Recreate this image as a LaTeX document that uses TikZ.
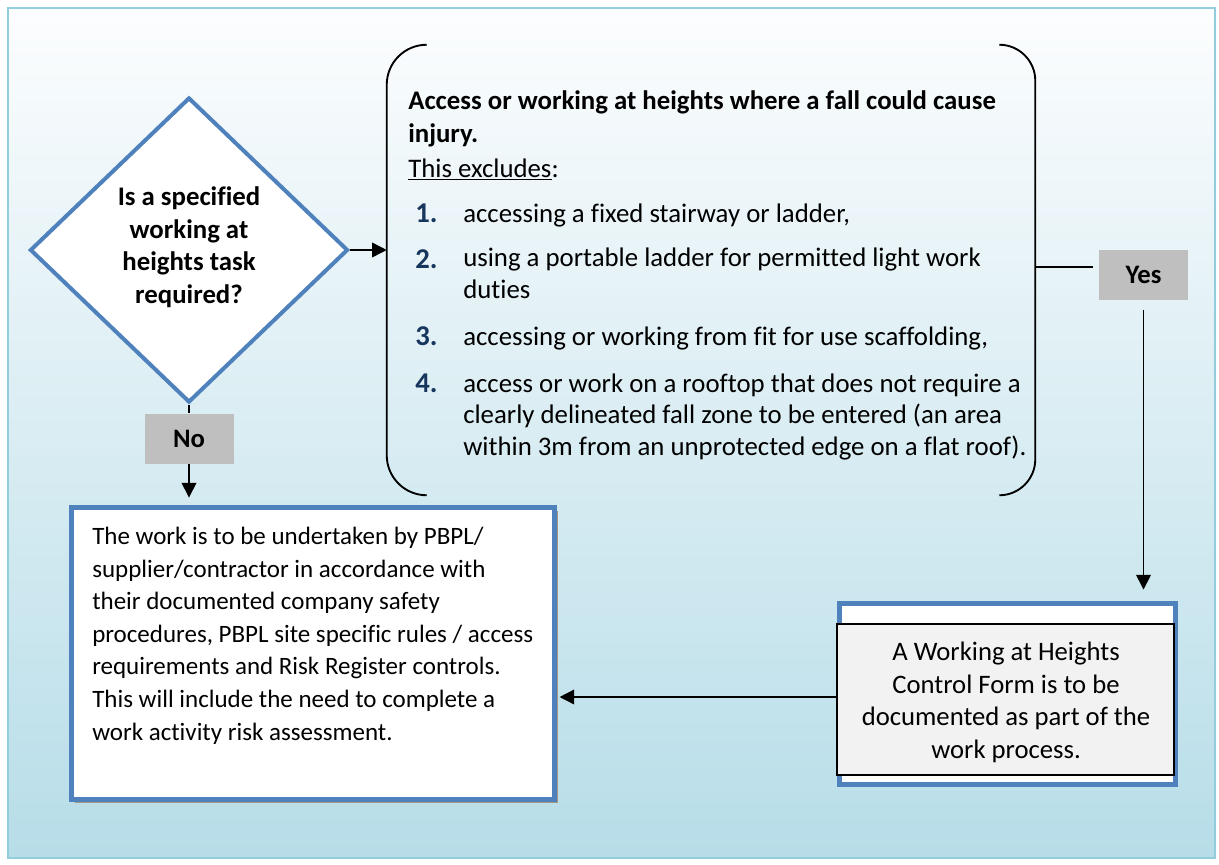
\documentclass[tikz,border=0pt]{standalone}
\usepackage{fontspec}
\setmainfont{Carlito}[Ligatures=NoCommon]
\usetikzlibrary{arrows.meta,shapes.geometric,shadows}
\definecolor{frameblue}{RGB}{146,205,220}
\definecolor{boxblue}{RGB}{79,129,189}
\definecolor{bgtop}{RGB}{252,253,254}
\definecolor{bgbot}{RGB}{183,221,232}
\definecolor{lblgray}{RGB}{191,191,191}
\definecolor{numblue}{RGB}{23,54,93}
\definecolor{shadowtan}{RGB}{166,150,128}
\definecolor{formgray}{RGB}{242,242,242}
\tikzset{
  conn/.style={draw=black, line width=1.1pt},
  arr/.style={conn, -{Triangle[length=11pt,width=11pt]}},
  bracket/.style={draw=black, line width=1.4pt},
  lbl/.style={fill=lblgray, font=\fontsize{20}{24.4}\selectfont\bfseries, minimum width=66.75pt, minimum height=37.5pt, inner sep=0pt},
  bluebox/.style={draw=boxblue, line width=3.75pt, fill=white, inner sep=0pt},
  txt/.style={inner sep=0pt, align=left, anchor=base west},
  big/.style={font=\fontsize{20.1}{23.6}\selectfont},
  bigb/.style={font=\fontsize{20.1}{24.4}\selectfont\bfseries},
  num/.style={inner sep=0pt, text=numblue, font=\fontsize{21.5}{24}\selectfont\bfseries, anchor=base west},
}
\begin{document}
\begin{tikzpicture}[x=0.75pt,y=-0.75pt,font=\fontsize{18.75}{24.4}\selectfont]
\useasboundingbox (0,0) rectangle (1219,864);
% background frame
\fill[top color=bgtop, bottom color=bgbot] (8,8) rectangle (1215,858);
\draw[frameblue, line width=1.5pt] (8,8) rectangle (1215,858);

% decision diamond
\node[diamond, draw=boxblue, line width=3pt, fill=white, minimum width=238.5pt, minimum height=228.75pt, inner sep=0pt] (dia) at (189,250) {};
\node[inner sep=0pt, align=center, bigb] (diat) at (189,247) {Is a specified\\working at\\heights task\\required?};

% exclusion bracket box
\node[minimum width=486pt, minimum height=337.5pt, inner sep=0pt] (excl) at (711,270) {};
\draw[bracket, rounded corners=30pt] ([xshift=30pt]excl.north west) -- (excl.north west) -- (excl.south west) -- ([xshift=30pt]excl.south west);
\draw[bracket, rounded corners=27pt] ([xshift=-27pt]excl.north east) -- (excl.north east) -- (excl.south east) -- ([xshift=-27pt]excl.south east);

\node[txt, bigb] (head) at (408,142) {Access or working at heights where a fall could cause\\injury.};
\node[txt, big] (exc) at (408,177) {\underline{This excludes}:};
\node[num] (n1) at (415,222) {1.};
\node[txt, big] (i1) at (463,222) {accessing a fixed stairway or ladder,};
\node[num] (n2) at (415,268) {2.};
\node[txt, big] (i2) at (463,298) {using a portable ladder for permitted light work\\duties};
\node[num] (n3) at (415,345) {3.};
\node[txt, big] (i3) at (463,345) {accessing or working from fit for use scaffolding,};
\node[num] (n4) at (415,392) {4.};
\node[txt, big] (i4) at (463,455) {access or work on a rooftop that does not require a\\clearly delineated fall zone to be entered (an area\\within 3m from an unprotected edge on a flat roof).};

% labels
\node[lbl] (yes) at (1143.5,275) {Yes};
\node[lbl] (no) at (189,438.5) {No};
\coordinate (yesin) at (1093,267);

% outcome boxes
\node[bluebox, general shadow={fill=shadowtan, shadow xshift=2.5pt, shadow yshift=-2.5pt}, minimum width=362.25pt, minimum height=219pt] (work) at (313,653.5) {};
\node[txt] (workt) at (92,740) {The work is to be undertaken by PBPL/\\supplier/contractor in accordance with\\their documented company safety\\procedures, PBPL site specific rules / access\\requirements and Risk Register controls.\\This will include the need to complete a\\work activity risk assessment.};

\node[bluebox, minimum width=252pt, minimum height=136.1pt] (formouter) at (1007.5,694.25) {};
\node[draw=black, line width=1.1pt, fill=formgray, minimum width=252.75pt, minimum height=113.25pt, inner sep=0pt] (form) at (1005.5,699.5) {};
\node[inner sep=0pt, align=center, font=\fontsize{20}{24.4}\selectfont] (formt) at (1006,702.5) {A Working at Heights\\Control Form is to be\\documented as part of the\\work process.};
\coordinate (ret) at (838,697);

% connectors
\draw[arr] (dia.east) -- (dia.east -| excl.west);
\draw[conn] (excl.east |- yesin) -- (yesin);
\draw[arr, shorten >=8.6pt] ([yshift=-7.5pt]yes.south) -- (yes.south |- formouter.north);
\draw[conn] (dia.south) -- (dia.south |- no.north);
\draw[arr, shorten >=5.6pt] (dia.south |- no.south) -- (dia.south |- work.north);
\draw[arr, shorten >=1.9pt] (ret) -- (work.east |- ret);
\end{tikzpicture}
\end{document}
